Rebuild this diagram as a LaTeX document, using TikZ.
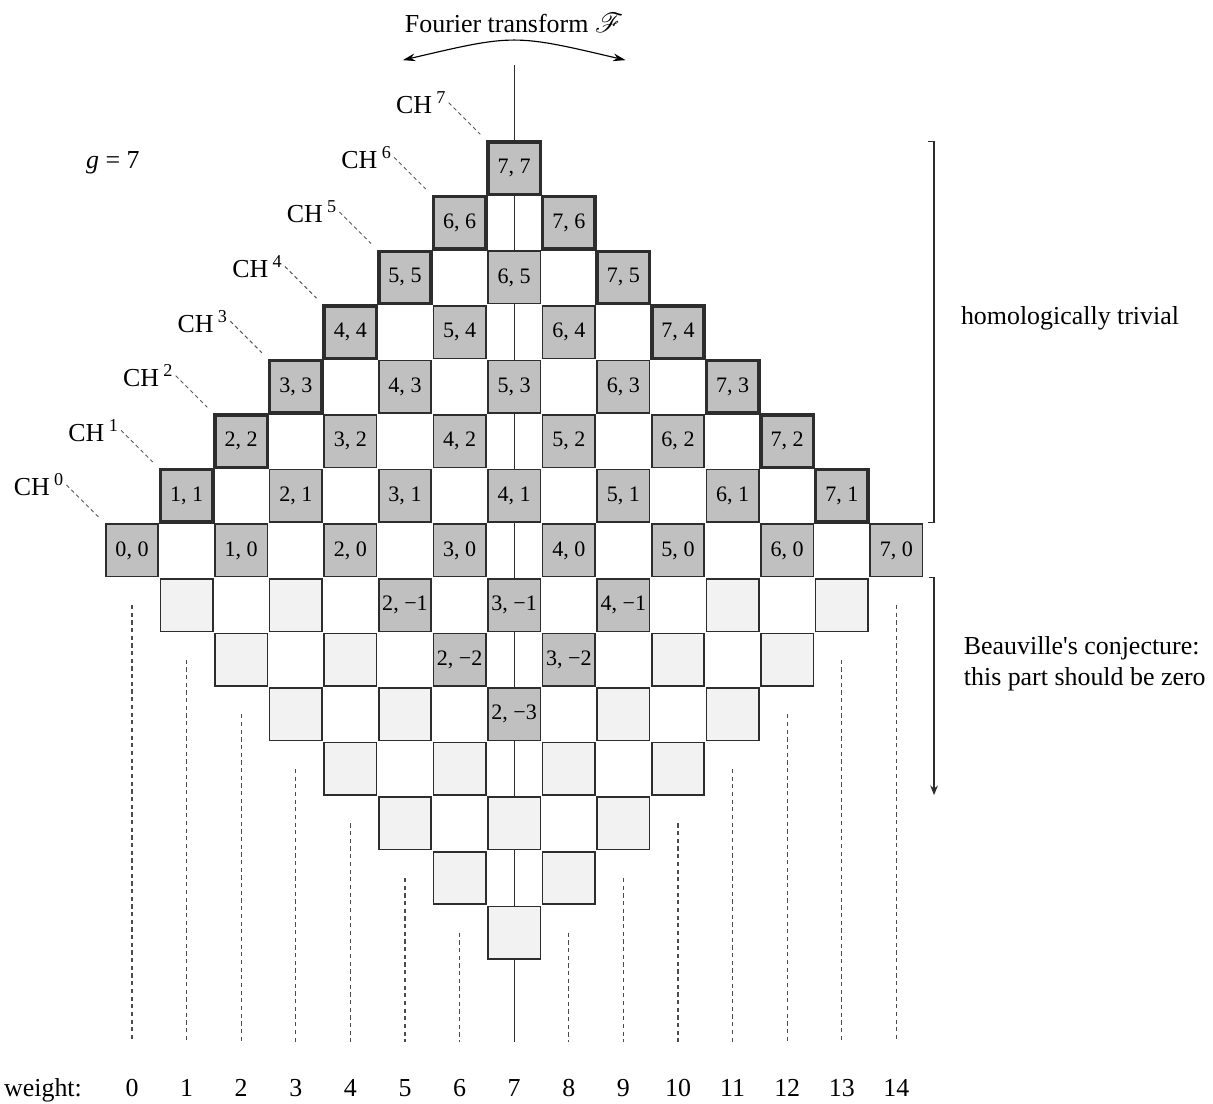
\documentclass[tikz,border=0pt]{standalone}
\usepackage{fontspec}
\setmainfont{Liberation Serif}
\usepackage{mathrsfs}
\usetikzlibrary{arrows.meta}
\definecolor{cellgray}{RGB}{192,192,192}
\definecolor{cellpale}{RGB}{242,242,242}
\definecolor{celledge}{RGB}{45,45,45}

\begin{document}
\begin{tikzpicture}[
  cell/.style={draw=celledge,line width=0.8pt,minimum size=0.96cm,inner sep=0pt,font=\fontsize{11.5}{13}\selectfont},
  full/.style={cell,fill=cellgray},
  pale/.style={cell,fill=cellpale},
  edge/.style={full,line width=1.8pt},
  chlab/.style={anchor=east,inner sep=1pt,font=\fontsize{13.5}{16}\selectfont},
  leader/.style={dash pattern=on 2pt off 1.6pt,gray!70!black,line width=0.5pt,shorten >=4.4pt},
  guide/.style={dash pattern=on 2.2pt off 1.8pt,gray!60!black,line width=0.6pt},
  txt/.style={font=\fontsize{13.5}{16}\selectfont},
  wlab/.style={txt,anchor=base}
]
\useasboundingbox (-2.418,-10.137) rectangle (19.799,10.082);

% middle axis
\coordinate (AXTOP) at (7,8.89);
\coordinate (AXBOT) at (7,-9.0);
\draw[line width=0.7pt,celledge] (AXTOP) -- (AXBOT);

% weight columns below the diamond
\draw[guide] (0,-1) -- (0,-9);
\draw[guide] (1,-2) -- (1,-9);
\draw[guide] (2,-3) -- (2,-9);
\draw[guide] (3,-4) -- (3,-9);
\draw[guide] (4,-5) -- (4,-9);
\draw[guide] (5,-6) -- (5,-9);
\draw[guide] (6,-7) -- (6,-9);
\draw[guide] (8,-7) -- (8,-9);
\draw[guide] (9,-6) -- (9,-9);
\draw[guide] (10,-5) -- (10,-9);
\draw[guide] (11,-4) -- (11,-9);
\draw[guide] (12,-3) -- (12,-9);
\draw[guide] (13,-2) -- (13,-9);
\draw[guide] (14,-1) -- (14,-9);

% upper half
\draw (0,0) node(B00)[full]{0, 0};
\draw (2,0) node(B10)[full]{1, 0};
\draw (4,0) node(B20)[full]{2, 0};
\draw (6,0) node(B30)[full]{3, 0};
\draw (8,0) node(B40)[full]{4, 0};
\draw (10,0) node(B50)[full]{5, 0};
\draw (12,0) node(B60)[full]{6, 0};
\draw (14,0) node(B70)[full]{7, 0};

\draw (3,1) node(B21)[full]{2, 1};
\draw (5,1) node(B31)[full]{3, 1};
\draw (7,1) node(B41)[full]{4, 1};
\draw (9,1) node(B51)[full]{5, 1};
\draw (11,1) node(B61)[full]{6, 1};

\draw (4,2) node(B32)[full]{3, 2};
\draw (6,2) node(B42)[full]{4, 2};
\draw (8,2) node(B52)[full]{5, 2};
\draw (10,2) node(B62)[full]{6, 2};

\draw (5,3) node(B43)[full]{4, 3};
\draw (7,3) node(B53)[full]{5, 3};
\draw (9,3) node(B63)[full]{6, 3};

\draw (6,4) node(B54)[full]{5, 4};
\draw (8,4) node(B64)[full]{6, 4};

\draw (7,5) node(B65)[full]{6, 5};

% the two edges of the diamond
\draw (1,1) node(B11)[edge]{1, 1};
\draw (2,2) node(B22)[edge]{2, 2};
\draw (3,3) node(B33)[edge]{3, 3};
\draw (4,4) node(B44)[edge]{4, 4};
\draw (5,5) node(B55)[edge]{5, 5};
\draw (6,6) node(B66)[edge]{6, 6};
\draw (7,7) node(B77)[edge]{7, 7};
\draw (8,6) node(B76)[edge]{7, 6};
\draw (9,5) node(B75)[edge]{7, 5};
\draw (10,4) node(B74)[edge]{7, 4};
\draw (11,3) node(B73)[edge]{7, 3};
\draw (12,2) node(B72)[edge]{7, 2};
\draw (13,1) node(B71)[edge]{7, 1};

% lower half
\draw (1,-1) node(B0M1)[pale]{};
\draw (3,-1) node(B1M1)[pale]{};
\draw (5,-1) node(B2M1)[full]{2, −1};
\draw (7,-1) node(B3M1)[full]{3, −1};
\draw (9,-1) node(B4M1)[full]{4, −1};
\draw (11,-1) node(B5M1)[pale]{};
\draw (13,-1) node(B6M1)[pale]{};

\draw (2,-2) node(B0M2)[pale]{};
\draw (4,-2) node(B1M2)[pale]{};
\draw (6,-2) node(B2M2)[full]{2, −2};
\draw (8,-2) node(B3M2)[full]{3, −2};
\draw (10,-2) node(B4M2)[pale]{};
\draw (12,-2) node(B5M2)[pale]{};

\draw (3,-3) node(B0M3)[pale]{};
\draw (5,-3) node(B1M3)[pale]{};
\draw (7,-3) node(B2M3)[full]{2, −3};
\draw (9,-3) node(B3M3)[pale]{};
\draw (11,-3) node(B4M3)[pale]{};

\draw (4,-4) node(B0M4)[pale]{};
\draw (6,-4) node(B1M4)[pale]{};
\draw (8,-4) node(B2M4)[pale]{};
\draw (10,-4) node(B3M4)[pale]{};

\draw (5,-5) node(B0M5)[pale]{};
\draw (7,-5) node(B1M5)[pale]{};
\draw (9,-5) node(B2M5)[pale]{};

\draw (6,-6) node(B0M6)[pale]{};
\draw (8,-6) node(B1M6)[pale]{};

\draw (7,-7) node(B0M7)[pale]{};

% Chow groups
\draw (-1.2,1.2) node(CH0)[chlab]{CH\,\textsuperscript{0}};
\draw (-0.2,2.2) node(CH1)[chlab]{CH\,\textsuperscript{1}};
\draw (0.8,3.2) node(CH2)[chlab]{CH\,\textsuperscript{2}};
\draw (1.8,4.2) node(CH3)[chlab]{CH\,\textsuperscript{3}};
\draw (2.8,5.2) node(CH4)[chlab]{CH\,\textsuperscript{4}};
\draw (3.8,6.2) node(CH5)[chlab]{CH\,\textsuperscript{5}};
\draw (4.8,7.2) node(CH6)[chlab]{CH\,\textsuperscript{6}};
\draw (5.8,8.2) node(CH7)[chlab]{CH\,\textsuperscript{7}};

\draw[leader] (CH0.east) -- (B00.north west);
\draw[leader] (CH1.east) -- (B11.north west);
\draw[leader] (CH2.east) -- (B22.north west);
\draw[leader] (CH3.east) -- (B33.north west);
\draw[leader] (CH4.east) -- (B44.north west);
\draw[leader] (CH5.east) -- (B55.north west);
\draw[leader] (CH6.east) -- (B66.north west);
\draw[leader] (CH7.east) -- (B77.north west);

\draw (-0.35,7.10) node(GEN)[txt]{\textit{g} = 7};

% Fourier transform
\draw (7,9.66) node(FOUR)[txt]{Fourier transform $\mathscr{F}$};
\coordinate (FL) at (4.96,8.98);
\coordinate (FR) at (9.04,8.98);
\draw[line width=0.6pt,{Stealth[length=6.5pt,width=4pt]}-{Stealth[length=6.5pt,width=4pt]}] (FL) .. controls (7,9.46) .. (FR);

% right side
\coordinate (BRT) at (14.58,7.49);
\coordinate (BRB) at (14.58,0.51);
\draw[line width=0.7pt,celledge] (BRT) -- ++(0.11,0) |- (BRB);
\draw (17.18,4.26) node(HT)[txt]{homologically trivial};

\coordinate (ART) at (14.60,-0.49);
\coordinate (ARB) at (14.69,-4.48);
\draw[line width=0.7pt,celledge,-{Stealth[length=5pt,width=4pt]}] (ART) -| (ARB);
\draw (17.45,-2.08) node(BC)[txt,align=left]{Beauville\textquotesingle s conjecture:\\this part should be zero};

% weights
\draw (-1.63,-10.0) node(WT)[wlab]{weight:};
\draw (0,-10.0) node(W0)[wlab]{0};
\draw (1,-10.0) node(W1)[wlab]{1};
\draw (2,-10.0) node(W2)[wlab]{2};
\draw (3,-10.0) node(W3)[wlab]{3};
\draw (4,-10.0) node(W4)[wlab]{4};
\draw (5,-10.0) node(W5)[wlab]{5};
\draw (6,-10.0) node(W6)[wlab]{6};
\draw (7,-10.0) node(W7)[wlab]{7};
\draw (8,-10.0) node(W8)[wlab]{8};
\draw (9,-10.0) node(W9)[wlab]{9};
\draw (10,-10.0) node(W10)[wlab]{10};
\draw (11,-10.0) node(W11)[wlab]{11};
\draw (12,-10.0) node(W12)[wlab]{12};
\draw (13,-10.0) node(W13)[wlab]{13};
\draw (14,-10.0) node(W14)[wlab]{14};

\end{tikzpicture}
\end{document}
